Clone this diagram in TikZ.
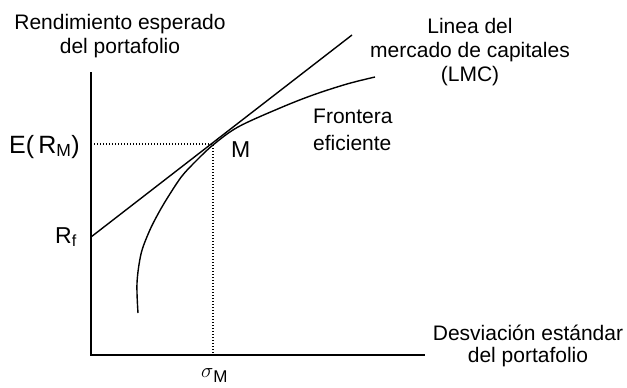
\documentclass[tikz,border=0pt]{standalone}
\usepackage{fontspec}
\setmainfont{Liberation Sans}
\tikzset{
	axis/.style={line width=2pt},
	curve/.style={line width=1.4pt},
	guide/.style={line width=1.4pt,dash pattern=on 1.4pt off 1.6pt},
	lbl/.style={inner sep=0pt,font=\fontsize{21}{24}\selectfont}
}
\begin{document}
\begin{tikzpicture}[x=1pt,y=-1pt]
		\useasboundingbox (0,0) rectangle (627,388);
		\coordinate (top) at (91,72);
		\coordinate (O) at (91,355);
		\coordinate (right) at (425,355);
		\coordinate (rf) at (91,237);
		\coordinate (M) at (213,144);
		\coordinate (lmc) at (352,35);
		\coordinate (em) at (91,144);
		\coordinate (sm) at (213,355);
		\draw[axis] (top) -- (O) -- (right);
		\draw[guide] (em) -- (M) -- (sm);
		\draw[curve] (rf) -- (lmc);
		\draw[curve] plot[smooth,tension=0.55] coordinates {(138,313) (137,283) (141,254) (149,232) (158,214) (168,197) (182,176) (197,160) (213,145) (238,127) (280,108) (313,95) (347,84) (375,77)};
		\node[lbl,align=center,anchor=base] (ylab) at (120,53) {Rendimiento esperado\\del portafolio};
		\node[lbl,align=center,anchor=base] (lmclab) at (470,81) {Linea del\\mercado de capitales\\(LMC)};
		\node[lbl,align=left,anchor=base west,font=\fontsize{21}{27}\selectfont] (frlab) at (313,150) {Frontera\\eficiente};
		\node[lbl,align=center,anchor=base,font=\fontsize{21}{22}\selectfont] (xlab) at (528,362) {Desviación estándar\\del portafolio};
		\node[lbl,anchor=base west,font=\fontsize{23}{23}\selectfont] (mlab) at (231,157) {M};
		\node[lbl,anchor=base east,font=\fontsize{25}{25}\selectfont] (emlab) at (80,153) {E(\,R\textsubscript{M})};
		\node[lbl,anchor=base east,font=\fontsize{23}{23}\selectfont] (rflab) at (77,243) {R\textsubscript{f}};
		\node[lbl,anchor=base west,font=\fontsize{22}{22}\selectfont] (smlab) at (201,377) {$\sigma$\raisebox{-5pt}{\fontsize{17}{17}\selectfont M}};
\end{tikzpicture}
\end{document}
